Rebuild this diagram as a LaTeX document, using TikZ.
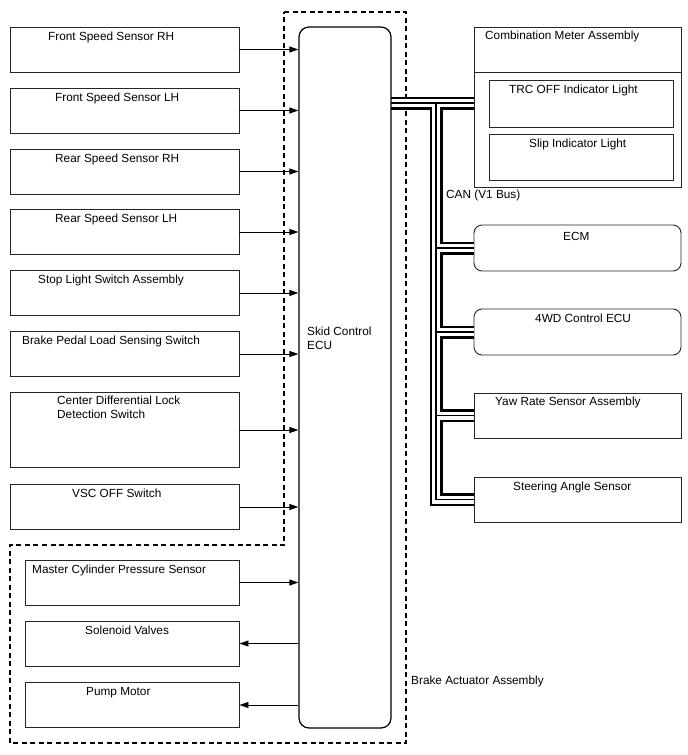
\documentclass[tikz,border=0pt]{standalone}
\usepackage{fontspec}
\setmainfont{Liberation Sans}
\usetikzlibrary{arrows.meta, positioning}

\begin{document}
\begin{tikzpicture}[x=1pt, y=-1pt,
    blk/.style={draw=black!85, line width=0.9pt, inner sep=0pt, minimum height=45pt},
    lbl/.style={anchor=base west, inner sep=0pt, font=\fontsize{11.8}{14}\selectfont, align=left},
    sig/.style={draw, line width=0.9pt, -{Triangle[length=9pt,width=6pt]}},
    frame/.style={draw, line width=1.1pt, dash pattern=on 5pt off 3.5pt}]
    \useasboundingbox (0,0) rectangle (688,755);

    % Rahmen: Brake Actuator Assembly
    \draw[frame] (284,12) -- (406,12) -- (406,743) -- (10,743) -- (10,545) -- (284,545) -- cycle;
    \node[lbl] (act-t) at (411,684) {Brake Actuator Assembly};

    % Eingaenge links
    \node[blk, minimum width=229pt] (frr) at (124.5,49.5) {};
    \node[blk, minimum width=229pt] (flh) at (124.5,110.5) {};
    \node[blk, minimum width=229pt] (rrr) at (124.5,171.5) {};
    \node[blk, minimum width=229pt] (rlh) at (124.5,232) {};
    \node[blk, minimum width=229pt] (stp) at (124.5,293) {};
    \node[blk, minimum width=229pt] (bpl) at (124.5,354) {};
    \node[blk, minimum width=229pt, minimum height=75pt] (cdl) at (124.5,430) {};
    \node[blk, minimum width=229pt] (vsc) at (124.5,507) {};
    \node[lbl] (frr-t) at (48,40) {Front Speed Sensor RH};
    \node[lbl] (flh-t) at (55,101) {Front Speed Sensor LH};
    \node[lbl] (rrr-t) at (55,162) {Rear Speed Sensor RH};
    \node[lbl] (rlh-t) at (55,222) {Rear Speed Sensor LH};
    \node[lbl] (stp-t) at (38,283) {Stop Light Switch Assembly};
    \node[lbl] (bpl-t) at (22,344) {Brake Pedal Load Sensing Switch};
    \node[lbl] (cdl-t) at (57,418) {Center Differential Lock\\Detection Switch};
    \node[lbl] (vsc-t) at (72,497) {VSC OFF Switch};

    % Aktuator-Teile
    \node[blk, minimum width=213.5pt] (mcp) at (132.25,582.5) {};
    \node[blk, minimum width=213.5pt] (sol) at (132.25,643.5) {};
    \node[blk, minimum width=213.5pt] (pmp) at (132.25,705) {};
    \node[lbl] (mcp-t) at (32,573) {Master Cylinder Pressure Sensor};
    \node[lbl] (sol-t) at (85,634) {Solenoid Valves};
    \node[lbl] (pmp-t) at (86,695) {Pump Motor};

    % Busteilnehmer rechts
    \node[blk, minimum width=207pt, minimum height=160pt] (meter) at (577.5,107) {};
    \draw[draw=black!85, line width=0.9pt] (meter.west |- 0,72) -- (meter.east |- 0,72);
    \node[blk, minimum width=184pt, minimum height=47pt] (trc) at (581,103.5) {};
    \node[blk, minimum width=184pt, minimum height=46pt] (slip) at (581,157) {};
    \node[blk, minimum width=207pt, minimum height=46pt, rounded corners=8pt] (ecm) at (577.5,248) {};
    \node[blk, minimum width=207pt, minimum height=46pt, rounded corners=8pt] (fwd) at (577.5,332) {};
    \node[blk, minimum width=207pt] (yaw) at (577.5,415.5) {};
    \node[blk, minimum width=207pt] (steer) at (577.5,499.5) {};
    \node[lbl] (meter-t) at (485,39) {Combination Meter Assembly};
    \node[lbl] (trc-t) at (509,93) {TRC OFF Indicator Light};
    \node[lbl] (slip-t) at (529,147) {Slip Indicator Light};
    \node[lbl] (ecm-t) at (563,240) {ECM};
    \node[lbl] (fwd-t) at (535,322) {4WD Control ECU};
    \node[lbl] (yaw-t) at (495,405) {Yaw Rate Sensor Assembly};
    \node[lbl] (steer-t) at (513,490) {Steering Angle Sensor};
    \node[lbl] (can-t) at (446,198) {CAN (V1 Bus)};

    % CAN-Bus
    \coordinate (can) at (391,103);
    \coordinate (tap) at (436,103);
    \foreach \w/\c in {13pt/black, 8pt/white, 1.2pt/black}{
        \draw[line width=\w, \c] (can) -- (can -| meter.west);
        \draw[line width=\w, \c] (tap) -- (tap |- steer.west) -- (steer.west);
        \foreach \b in {ecm, fwd, yaw}
            \draw[line width=\w, \c] (tap |- \b.west) -- (\b.west);
    }

    % Steuergeraet
    \node[draw, fill=white, line width=1.2pt, rounded corners=10pt, minimum width=92pt, minimum height=701pt, inner sep=0pt] (ecu) at (345,377.5) {};
    \node[lbl] (ecu-t) at (307,349) {Skid Control\\ECU};

    % Signale
    \foreach \s in {frr, flh, rrr, rlh, stp, bpl, cdl, vsc, mcp}
        \draw[sig] (\s) -- (ecu.west |- \s);
    \foreach \s in {sol, pmp}
        \draw[sig] (ecu.west |- \s) -- (\s);
\end{tikzpicture}
\end{document}
